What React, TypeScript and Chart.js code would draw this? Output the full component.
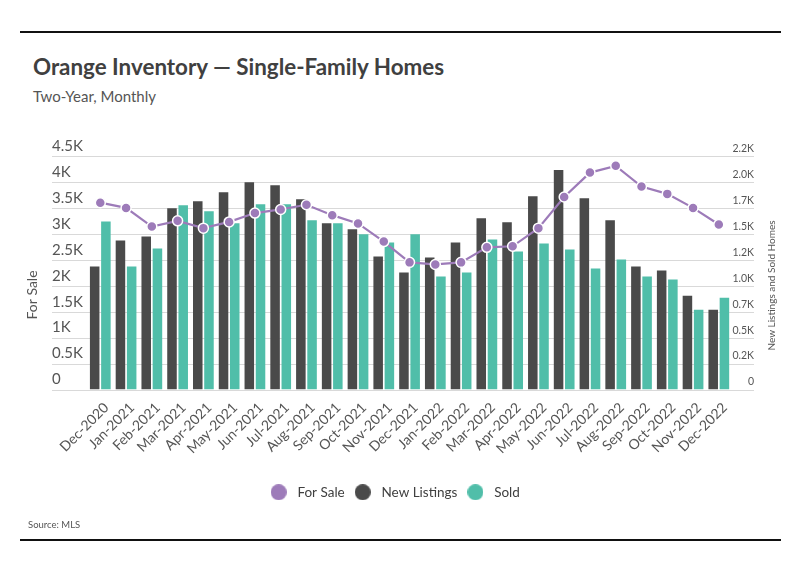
import React, { useEffect, useRef } from "react";
import { Chart, registerables } from "chart.js";

Chart.register(...registerables);

const months = [
  "Dec-2020", "Jan-2021", "Feb-2021", "Mar-2021", "Apr-2021", "May-2021", "Jun-2021",
  "Jul-2021", "Aug-2021", "Sep-2021", "Oct-2021", "Nov-2021", "Dec-2021", "Jan-2022",
  "Feb-2022", "Mar-2022", "Apr-2022", "May-2022", "Jun-2022", "Jul-2022", "Aug-2022",
  "Sep-2022", "Oct-2022", "Nov-2022", "Dec-2022",
];
const forSale = [3600, 3500, 3140, 3250, 3110, 3230, 3400, 3470, 3560, 3360, 3200, 2850, 2450, 2410, 2450, 2740, 2760, 3110, 3710, 4180, 4310, 3910, 3770, 3500, 3180];
const newListings = [1185, 1436, 1475, 1746, 1814, 1901, 1998, 1969, 1834, 1601, 1543, 1281, 1127, 1272, 1417, 1650, 1611, 1863, 2114, 1843, 1630, 1185, 1146, 904, 768];
const sold = [1620, 1185, 1359, 1775, 1717, 1601, 1785, 1785, 1630, 1601, 1495, 1417, 1495, 1088, 1127, 1446, 1330, 1407, 1349, 1165, 1252, 1088, 1059, 768, 884];

const seriesNames = ["For Sale", "New Listings", "Sold"];
const leftAxisTitle = "For Sale";
const rightAxisTitle = "New Listings and Sold Homes";

const PURPLE = "#9d7bb9";
const DARK = "#4a4a4a";
const TEAL = "#50bea9";
const TEXT = "#555555";
const FONT = "Lato, 'Noto Sans', sans-serif";

function makeDot(color: string) {
  const c = document.createElement("canvas");
  c.width = 16;
  c.height = 16;
  const g = c.getContext("2d")!;
  g.fillStyle = color;
  g.beginPath();
  g.arc(8, 8, 8, 0, Math.PI * 2);
  g.fill();
  return c;
}

const gridPlugin = {
  id: "fullGrid",
  beforeDatasetsDraw(chart: any) {
    const s = chart.scales.y;
    const ctx = chart.ctx;
    ctx.save();
    ctx.strokeStyle = "#d9d9d9";
    ctx.lineWidth = 1;
    s.ticks.forEach((t: any) => {
      const y = Math.round(s.getPixelForValue(t.value)) + 0.5;
      ctx.beginPath();
      ctx.moveTo(52, y);
      ctx.lineTo(754, y);
      ctx.stroke();
    });
    ctx.restore();
  },
};

const titlePlugin = {
  id: "axisTitles",
  afterDraw(chart: any) {
    const ctx = chart.ctx;
    ctx.save();
    ctx.fillStyle = TEXT;
    ctx.textAlign = "center";
    ctx.textBaseline = "middle";
    ctx.font = `14px ${FONT}`;
    ctx.translate(32.5, 295);
    ctx.rotate(-Math.PI / 2);
    ctx.fillText(leftAxisTitle, 0, 0);
    ctx.restore();
    ctx.save();
    ctx.fillStyle = TEXT;
    ctx.textAlign = "center";
    ctx.textBaseline = "middle";
    ctx.font = `10px ${FONT}`;
    ctx.translate(772, 285.5);
    ctx.rotate(-Math.PI / 2);
    ctx.fillText(rightAxisTitle, 0, 0);
    ctx.restore();
  },
};

export default function App() {
  const ref = useRef<HTMLCanvasElement | null>(null);

  useEffect(() => {
    if (!ref.current) return;
    const colors = [PURPLE, DARK, TEAL];
    const dots = colors.map(makeDot);
    const chart = new Chart(ref.current, {
      type: "bar",
      data: {
        labels: months,
        datasets: [
          {
            type: "line",
            label: seriesNames[0],
            data: forSale,
            yAxisID: "y",
            borderColor: PURPLE,
            backgroundColor: PURPLE,
            borderWidth: 2.2,
            pointRadius: 5,
            pointBackgroundColor: PURPLE,
            pointBorderColor: "#ffffff",
            pointBorderWidth: 1.5,
            order: 0,
          } as any,
          {
            type: "bar",
            label: seriesNames[1],
            data: newListings,
            yAxisID: "y1",
            backgroundColor: DARK,
            categoryPercentage: 0.87,
            barPercentage: 0.85,
            order: 1,
          },
          {
            type: "bar",
            label: seriesNames[2],
            data: sold,
            yAxisID: "y1",
            backgroundColor: TEAL,
            categoryPercentage: 0.87,
            barPercentage: 0.85,
            order: 2,
          },
        ],
      },
      options: {
        animation: false,
        responsive: false,
        devicePixelRatio: 1,
        layout: { padding: { top: 156, left: 32.5, right: 45, bottom: 66 } },
        plugins: {
          tooltip: { enabled: false },
          legend: {
            position: "bottom",
            labels: {
              usePointStyle: true,
              pointStyleWidth: 24,
              boxHeight: 16,
              padding: 6,
              color: "#404040",
              font: { family: FONT, size: 13.5 },
              generateLabels: (ch: any) =>
                ch.data.datasets.map((d: any, i: number) => ({
                  text: d.label,
                  fillStyle: colors[i],
                  strokeStyle: colors[i],
                  lineWidth: 0,
                  pointStyle: dots[i],
                  datasetIndex: i,
                  hidden: false,
                  fontColor: "#404040",
                })),
            },
          },
        },
        scales: {
          x: {
            offset: true,
            grid: { display: false, drawTicks: false },
            border: { display: false },
            ticks: {
              color: TEXT,
              font: { family: FONT, size: 14 },
              minRotation: 45,
              maxRotation: 45,
              padding: 10,
              labelOffset: 6,
              autoSkip: false,
            },
            afterFit: (s: any) => {
              s.height = 90;
            },
          },
          y: {
            position: "left",
            min: 0,
            max: 4500,
            grid: { display: false },
            border: { display: false },
            ticks: {
              stepSize: 500,
              mirror: true,
              crossAlign: "near",
              padding: -35.4,
              labelOffset: -10,
              color: TEXT,
              font: { family: FONT, size: 15 },
              callback: (v: any) => (v === 0 ? "0" : `${v / 1000}K`),
            },
            afterFit: (s: any) => {
              s.width = 54.9;
            },
          },
          y1: {
            position: "right",
            min: 0,
            max: 2250,
            grid: { display: false },
            border: { display: false },
            ticks: {
              stepSize: 250,
              crossAlign: "far",
              labelOffset: -7.5,
              color: TEXT,
              font: { family: FONT, size: 10.5 },
              callback: (v: any) => (v === 0 ? "0" : `${(Math.floor(v / 100) / 10).toFixed(1)}K`),
            },
            afterFit: (s: any) => {
              s.width = 22.3;
            },
          },
        },
      } as any,
      plugins: [gridPlugin, titlePlugin],
    });
    return () => chart.destroy();
  }, []);

  return (
    <div style={{ position: "fixed", left: 0, top: 0, width: 799, height: 575, background: "#fff", overflow: "hidden" }}>
      <div style={{ position: "absolute", left: 20, top: 31, width: 761, height: 1.5, background: "#111" }} />
      <div
        style={{
          position: "absolute", left: 33, top: 55.5, fontFamily: "Lato, sans-serif", fontWeight: 700,
          fontSize: 22.4, lineHeight: "22px", color: "#404040", whiteSpace: "nowrap",
        }}
      >
        Orange Inventory — Single-Family Homes
      </div>
      <div
        style={{
          position: "absolute", left: 33, top: 88, fontFamily: FONT, fontSize: 15,
          lineHeight: "17px", color: TEXT, whiteSpace: "nowrap",
        }}
      >
        Two-Year, Monthly
      </div>
      <canvas ref={ref} width={799} height={575} style={{ position: "absolute", left: 0, top: 0, width: 799, height: 575 }} />
      <div
        style={{
          position: "absolute", left: 28, top: 518.5, fontFamily: FONT, fontSize: 9.5,
          lineHeight: "11px", color: TEXT, whiteSpace: "nowrap",
        }}
      >
        Source: MLS
      </div>
      <div style={{ position: "absolute", left: 20, top: 539, width: 761, height: 1.5, background: "#111" }} />
    </div>
  );
}
